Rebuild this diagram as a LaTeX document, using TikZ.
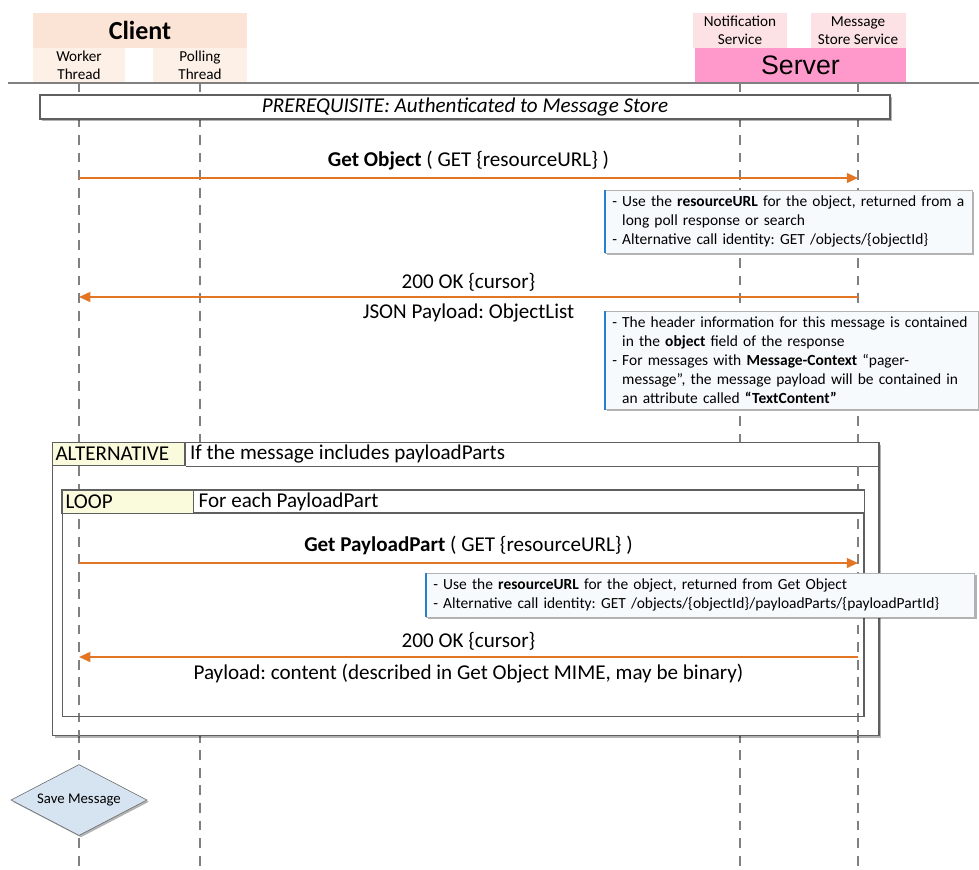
\documentclass[tikz,border=0pt]{standalone}
\usepackage{fontspec}
\setmainfont{Carlito}
\newfontfamily\serverfont{Liberation Sans}
\usetikzlibrary{arrows.meta,shapes.geometric,shadows}
\frenchspacing

\definecolor{clienttop}{RGB}{251,228,213}
\definecolor{clientlow}{RGB}{253,240,231}
\definecolor{srvlight}{RGB}{252,226,228}
\definecolor{srvpink}{RGB}{255,153,204}
\definecolor{msgorange}{RGB}{226,118,36}
\definecolor{tagyellow}{RGB}{250,250,221}
\definecolor{notebg}{RGB}{247,250,252}
\definecolor{barblue}{RGB}{38,128,210}
\definecolor{framecol}{RGB}{95,95,95}
\definecolor{savefill}{RGB}{214,228,242}

\newcommand{\pxlen}{0.7113pt}

\begin{document}
\begin{tikzpicture}[x=0.025cm,y=-0.025cm,
    hdr/.style={inner sep=0,align=center,font=\fontsize{10.8}{12.8}\selectfont},
    lifeline/.style={draw=gray,line width=0.9pt,dash pattern=on 7pt off 5.5pt},
    msg/.style={draw=msgorange,line width=1.3pt,-{Triangle[length=8pt,width=7pt]}},
    lbl/.style={font=\fontsize{15}{17}\selectfont},
    softshadow/.style={drop shadow={shadow xshift=1.3pt,shadow yshift=-1.3pt,fill=black,opacity=0.3}},
    note/.style={draw=gray!60,fill=notebg,anchor=north west,align=left,text width=#1,
                 inner xsep=5pt,inner ysep=4pt,font=\fontsize{11}{13.5}\selectfont,softshadow},
    notebar/.style={draw=barblue,line width=2pt},
    frame/.style={draw=framecol,line width=1pt,inner sep=0,anchor=north west},
    tag/.style={draw=framecol,line width=1pt,fill=tagyellow,anchor=north west,align=left,
                inner xsep=2pt,inner ysep=0,minimum height=23*\pxlen,font=\fontsize{15}{17}\selectfont}]
\useasboundingbox (0,0) rectangle (979,869);
\coordinate (bottom) at (0,869);
\coordinate (loophead) at (0,513);

% header
\draw[gray,line width=1.3pt] (8,83) -- (979,83);
\node[hdr,fill=clienttop,minimum width=214*\pxlen,minimum height=35*\pxlen,font=\fontsize{18.5}{20}\selectfont\bfseries] (client) at (140,30.5) {Client};
\foreach \n/\x/\w/\t in {worker/79/92/Worker,polling/200/94/Polling}
    \node[hdr,fill=clientlow,minimum width=\w*\pxlen,minimum height=34*\pxlen] (\n) at (\x,65) {\t\\Thread};
\node[hdr,fill=srvlight,minimum width=94*\pxlen,minimum height=35*\pxlen] (notif) at (740,30.5) {Notification\\Service};
\node[hdr,fill=srvlight,minimum width=95*\pxlen,minimum height=35*\pxlen] (store) at (858,30.5) {Message\\Store Service};
\node[fill=srvpink,inner sep=0,minimum width=211*\pxlen,minimum height=34*\pxlen,font=\serverfont\fontsize{19}{21}\selectfont] (server) at (800.5,65) {Server};

% lifelines
\foreach \n in {worker,polling,notif,store}
    \draw[lifeline] (\n |- server.south) -- (\n |- bottom);

\node[draw=framecol,fill=white,line width=1pt,minimum width=850*\pxlen,minimum height=24*\pxlen,inner sep=0,
      font=\fontsize{15}{17}\selectfont\itshape,softshadow] (prereq) at (465,107) {PREREQUISITE: Authenticated to Message Store};

\foreach \y [count=\k] in {178,297,563,657} {
    \coordinate (w\k) at (79,\y);
    \coordinate (s\k) at (858,\y);
}

% get object
\draw[msg] (w1) -- node[lbl,above=1.5pt] {\textbf{Get Object} ( GET \{resourceURL\} )} (s1);
\node[note=251pt] (note1) at (605,190) {- Use the \textbf{resourceURL} for the object, returned from a\\
    \phantom{- }long poll response or search\\
    - Alternative call identity: GET /objects/\{objectId\}};
\draw[notebar] (note1.north west) -- (note1.south west);

\draw[msg] (s2) -- node[lbl,above=0pt] {200 OK \{cursor\}} node[lbl,below=1pt] {JSON Payload: ObjectList} (w2);
\node[note=255pt] (note2) at (605,311) {- The header information for this message is contained\\
    \phantom{- }in the \textbf{object} field of the response\\
    - For messages with \textbf{Message-Context} “pager-\\
    \phantom{- }message”, the message payload will be contained in\\
    \phantom{- }an attribute called \textbf{“TextContent”}};
\draw[notebar] (note2.north west) -- (note2.south west);

% alternative frame
\node[frame,fill=white,softshadow,minimum width=826*\pxlen,minimum height=293*\pxlen] (alt) at (52,442) {};
\node[tag,text width=90pt] (alttag) at (alt.north west) {ALTERNATIVE};
\node[lbl,anchor=west,inner sep=3pt] (altcond) at (alttag.east) {If the message includes payloadParts};
\draw[framecol,line width=1pt] (alttag.south east) -- (alttag.south -| alt.east);
\foreach \n in {worker,store}
    \draw[lifeline] (\n |- alttag.south) -- (\n |- alt.south);

% loop frame
\node[frame,minimum width=801*\pxlen,minimum height=226*\pxlen] (loop) at (62,490) {};
\draw[fill=white,draw=framecol,line width=1pt] (loop.north west) rectangle (loop.east |- loophead);
\node[tag,text width=89pt] (looptag) at (loop.north west) {LOOP};
\node[lbl,anchor=west,inner sep=3pt] (loopcond) at (looptag.east) {For each PayloadPart};

\draw[msg] (w3) -- node[lbl,above=2pt] {\textbf{Get PayloadPart} ( GET \{resourceURL\} )} (s3);
\node[note=380pt] (note3) at (426,573) {- Use the \textbf{resourceURL} for the object, returned from Get Object\\
    - Alternative call identity: GET /objects/\{objectId\}/payloadParts/\{payloadPartId\}};
\draw[notebar] (note3.north west) -- (note3.south west);

\draw[msg] (s4) -- node[lbl,above=1pt] {200 OK \{cursor\}} node[lbl,below=1pt] {Payload: content (described in Get Object MIME, may be binary)} (w4);

% save
\node[diamond,draw=gray!80!black,fill=savefill,aspect=1.9,inner sep=0,minimum width=136*\pxlen,minimum height=71*\pxlen,
      font=\fontsize{10.5}{12}\selectfont,softshadow] (save) at (79,800) {Save Message};
\end{tikzpicture}
\end{document}
